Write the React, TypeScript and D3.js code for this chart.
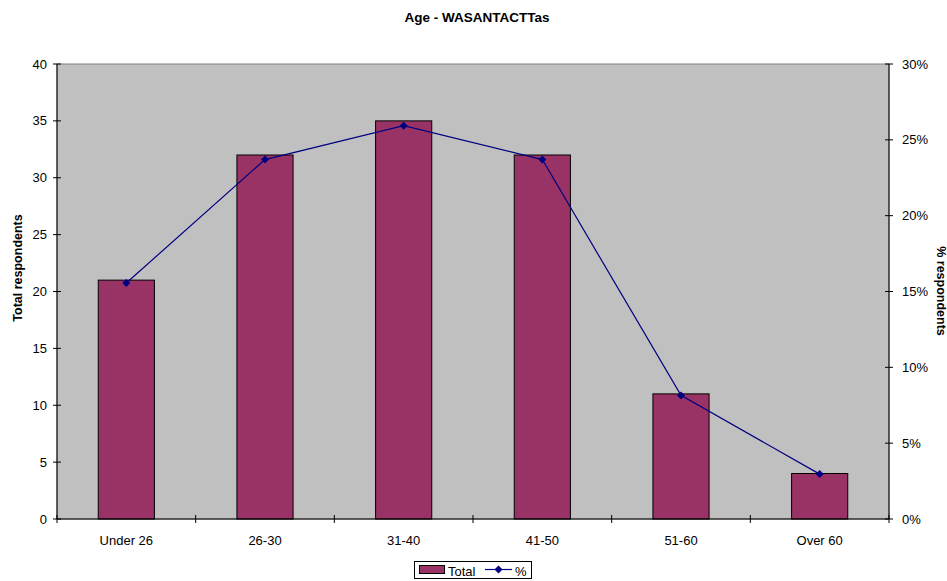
import React from "react";
import * as d3 from "d3";

const categories = ["Under 26", "26-30", "31-40", "41-50", "51-60", "Over 60"];
const totals = [21, 32, 35, 32, 11, 4];
const percents = [15.56, 23.7, 25.93, 23.7, 8.15, 2.96];
const leftTicks = [0, 5, 10, 15, 20, 25, 30, 35, 40];
const rightTicks = [0, 5, 10, 15, 20, 25, 30];

export default function App() {
  const W = 947, H = 581;
  const L = 57, R = 889, T = 64, B = 519;
  const x = d3.scaleBand<string>().domain(categories).range([L, R]).paddingInner(0).paddingOuter(0);
  const y = d3.scaleLinear().domain([0, 40]).range([B, T]);
  const y2 = d3.scaleLinear().domain([0, 30]).range([B, T]);
  const bw = x.bandwidth() * 0.405;
  const line = d3.line<number>()
    .x((_, i) => x(categories[i])! + x.bandwidth() / 2)
    .y((d) => y2(d));
  const font = "'Liberation Sans', Arial, sans-serif";
  const bounds = d3.range(categories.length + 1).map((i) => L + i * x.bandwidth());
  return (
    <svg width={W} height={H} style={{ position: "absolute", left: 0, top: 0 }} fontFamily={font}>
      <rect x={0} y={0} width={W} height={H} fill="#fff" />
      <text x={477} y={22} textAnchor="middle" fontSize={13.5} fontWeight="bold">Age - WASANTACTTas</text>
      <rect x={L} y={T} width={R - L} height={B - T} fill="#c0c0c0" stroke="#808080" strokeWidth={1} />
      {totals.map((v, i) => (
        <rect key={i} x={x(categories[i])! + x.bandwidth() / 2 - bw / 2} y={y(v)} width={bw} height={B - y(v)}
          fill="#993366" stroke="#000" strokeWidth={1} />
      ))}
      <path d={line(percents) || ""} fill="none" stroke="#000080" strokeWidth={1.2} />
      {percents.map((p, i) => {
        const cx = x(categories[i])! + x.bandwidth() / 2, cy = y2(p);
        return <path key={i} d={`M${cx},${cy - 4}L${cx + 4},${cy}L${cx},${cy + 4}L${cx - 4},${cy}Z`} fill="#000080" />;
      })}
      <line x1={L} y1={T} x2={L} y2={B} stroke="#000" />
      <line x1={R} y1={T} x2={R} y2={B} stroke="#000" />
      <line x1={L} y1={B} x2={R} y2={B} stroke="#000" />
      {leftTicks.map((t) => (
        <g key={t}>
          <line x1={L - 4} x2={L + 4} y1={y(t)} y2={y(t)} stroke="#000" />
          <text x={L - 10} y={y(t) + 4.5} textAnchor="end" fontSize={13}>{t}</text>
        </g>
      ))}
      {rightTicks.map((t) => (
        <g key={t}>
          <line x1={R - 4} x2={R + 4} y1={y2(t)} y2={y2(t)} stroke="#000" />
          <text x={R + 13} y={y2(t) + 4.5} textAnchor="start" fontSize={13}>{t}%</text>
        </g>
      ))}
      {bounds.map((bx, i) => (
        <line key={i} x1={bx} x2={bx} y1={B - 4} y2={B + 4} stroke="#000" />
      ))}
      {categories.map((c) => (
        <text key={c} x={x(c)! + x.bandwidth() / 2} y={545} textAnchor="middle" fontSize={13}>{c}</text>
      ))}
      <text transform={`translate(22,268) rotate(-90)`} textAnchor="middle" fontSize={12.5} fontWeight="bold">Total respondents</text>
      <text transform={`translate(937,291) rotate(90)`} textAnchor="middle" fontSize={12.5} fontWeight="bold">% respondents</text>
      <rect x={414.5} y={561.5} width={117} height={17} fill="#fff" stroke="#000" />
      <rect x={419.5} y={565.5} width={25} height={8} fill="#993366" stroke="#000" />
      <text x={448} y={576} fontSize={13}>Total</text>
      <line x1={485} x2={512} y1={569.5} y2={569.5} stroke="#000080" strokeWidth={1.2} />
      <path d="M498.5,565.5L502.5,569.5L498.5,573.5L494.5,569.5Z" fill="#000080" />
      <text x={515} y={576} fontSize={13}>%</text>
    </svg>
  );
}
